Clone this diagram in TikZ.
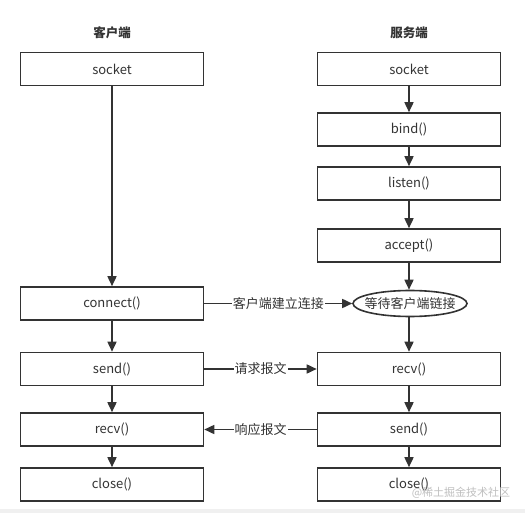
\documentclass[tikz,border=0pt]{standalone}
\usepackage{fontspec}
\setmainfont{Noto Sans CJK SC}
\usetikzlibrary{arrows.meta,shapes.geometric}
\definecolor{ink}{HTML}{333333}
\begin{document}
\begin{tikzpicture}[x=1pt,y=-1pt,
  box/.style={draw=ink,line width=1.6pt,minimum width=183pt,minimum height=33pt,inner sep=0pt,text=ink,font=\fontsize{13}{15}\selectfont},
  conn/.style={draw=ink,line width=1.6pt,-{Triangle[length=10pt,width=9pt]}},
  lab/.style={fill=white,inner sep=1pt,text=ink,font=\fontsize{13}{15}\selectfont},
  title/.style={text=ink,font=\bfseries\fontsize{12.5}{14}\selectfont}]
\useasboundingbox (0,0) rectangle (525,513);
\fill[white] (0,0) rectangle (525,513);
\fill[black!6] (0,509) rectangle (525,513);
\node[title] (tc) at (112,33) {客户端};
\node[title] (ts) at (409,33) {服务端};
% client
\node[box] (cs) at (112,69) {socket};
\node[box] (cc) at (112,303.5) {connect()};
\node[box] (csd) at (112,369) {send()};
\node[box] (cr) at (112,429.5) {recv()};
\node[box] (ccl) at (112,484.5) {close()};
% server
\node[box] (ss) at (409,69) {socket};
\node[box] (sb) at (409,129.5) {bind()};
\node[box] (sl) at (409,183.5) {listen()};
\node[box] (sa) at (409,245.5) {accept()};
\node[draw=ink,line width=1.6pt,ellipse,minimum width=114pt,minimum height=26pt,inner xsep=-5.5pt,inner ysep=0pt,text=ink,font=\fontsize{13}{15}\selectfont] (sw) at (410,303.5) {等待客户端链接};
\node[box] (sr) at (409,369) {recv()};
\node[box] (ssd) at (409,429.5) {send()};
\node[box] (scl) at (409,484.5) {close()};
% arrows
\draw[conn] (cs) -- (cc);
\draw[conn] (cc) -- (csd);
\draw[conn] (csd) -- (cr);
\draw[conn] (cr) -- (ccl);
\draw[conn] (ss) -- (sb);
\draw[conn] (sb) -- (sl);
\draw[conn] (sl) -- (sa);
\draw[conn] (sa) -- (sa|-sw.north);
\draw[conn] (sw.south-|sr) -- (sr);
\draw[conn] (sr) -- (ssd);
\draw[conn] (ssd) -- (scl);
\draw[conn] (cc) -- node[lab,pos=0.5] (l1) {客户端建立连接} (sw);
\draw[conn] (csd) -- node[lab,pos=0.5] (l2) {请求报文} (sr);
\draw[conn] (ssd) -- node[lab,pos=0.5] (l3) {响应报文} (cr);
\node[text=black!25,font=\fontsize{11}{13}\selectfont] (wm) at (461,493) {@稀土掘金技术社区};
\end{tikzpicture}
\end{document}
